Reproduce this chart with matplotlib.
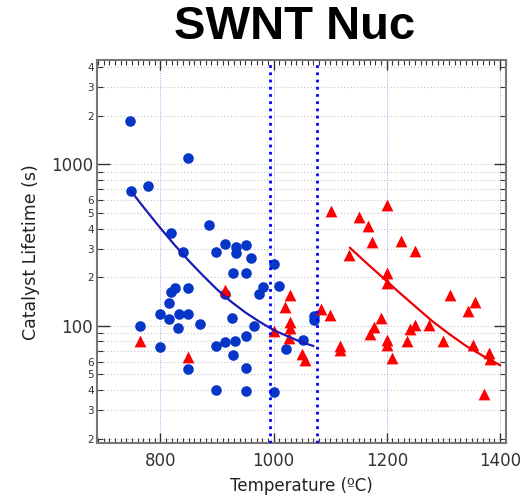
import numpy as np
import matplotlib.pyplot as plt
from matplotlib.ticker import LogLocator, FuncFormatter, MultipleLocator

# SWNT nucleation: catalyst lifetime vs growth temperature
blue_T = [747, 849, 779, 748, 885, 818, 840, 898, 825, 818, 849, 815, 799, 815,
          833, 849, 870, 831, 764, 799, 849, 898, 898, 914, 934, 951, 933, 960,
          1000, 928, 951, 1009, 981, 975, 914, 926, 966, 1071, 1071, 1052, 1022,
          914, 931, 951, 928, 951, 951, 1000]
blue_life = [1860, 1090, 736, 683, 421, 377, 287, 285, 171, 163, 171, 139, 118, 110,
             119, 118, 102, 97, 100, 74, 54, 75, 40, 319, 309, 315, 281, 262,
             241, 211, 211, 177, 174, 157, 157, 111, 99, 115, 108, 82, 72,
             79, 80, 86, 66, 55, 39.5, 39]

red_T = [764, 849, 914, 1000, 1029, 1020, 1029, 1029, 1028, 1050, 1055, 1083, 1100,
         1117, 1117, 1101, 1150, 1167, 1174, 1134, 1201, 1225, 1250, 1201, 1201,
         1171, 1178, 1190, 1201, 1201, 1210, 1235, 1241, 1250, 1275, 1300, 1312,
         1344, 1356, 1352, 1380, 1382, 1371]
red_life = [81, 64, 166, 93, 154, 131, 106, 97, 84, 67, 61, 127, 117,
            75, 71, 516, 469, 415, 331, 274, 560, 336, 290, 213, 183,
            89, 98, 112, 82, 76, 63, 80, 95, 101, 101, 81, 154,
            124, 140, 76, 68, 62, 37.6]

blue_fit_T = [748, 775, 800, 825, 850, 875, 900, 925, 950, 975, 1000, 1025, 1050, 1070]
blue_fit_life = [683, 517, 403, 317, 253, 205, 168, 141, 121, 106, 94, 86, 79, 75]
red_fit_T = [1135, 1160, 1190, 1220, 1250, 1280, 1310, 1340, 1370, 1400]
red_fit_life = [304, 252, 203, 163, 132, 107, 89, 75, 65, 57]

window_T = [993, 1077]
x_grid = [800, 1000, 1200, 1400]

fig = plt.figure(figsize=(5.2, 5.0), dpi=100)
ax = fig.add_axes([0.1865, 0.1134, 0.786, 0.7666])

ax.set_yscale("log")
ax.set_xlim(688, 1410)
ax.set_ylim(18.7, 4430)

# grid
for v in x_grid:
    ax.axvline(v, color="#9fa4ff", lw=0.7, ls=(0, (1, 1.5)), zorder=0)
yg = [m * 10 ** e for e in (1, 2, 3) for m in range(1, 10)]
for v in yg:
    ax.axhline(v, color="#c4c4c4", lw=0.8, ls=(0, (1, 2)), zorder=0)

ax.scatter(blue_T, blue_life, s=58, marker="o", color="#0536c8", linewidths=0, zorder=2)
ax.scatter(red_T, red_life, s=72, marker="^", color="#ff0000", linewidths=0, zorder=3)

ax.plot(blue_fit_T, blue_fit_life, color="#1a1ab8", lw=1.6, zorder=4)
ax.plot(red_fit_T, red_fit_life, color="#ee0000", lw=1.6, zorder=4)

for v in window_T:
    ax.axvline(v, color="#0000ff", lw=2.0, ls=(0, (1, 1.6)), zorder=5)

# ticks
ax.xaxis.set_major_locator(MultipleLocator(200))
ax.xaxis.set_minor_locator(MultipleLocator(10))
ax.yaxis.set_major_locator(LogLocator(base=10))
ax.yaxis.set_minor_locator(LogLocator(base=10, subs=range(2, 10)))


def minor_fmt(v, pos):
    lead = int(round(v / 10 ** np.floor(np.log10(v) + 1e-9)))
    return str(lead) if lead in (2, 3, 4, 5, 6) else ""


ax.yaxis.set_major_formatter(FuncFormatter(lambda v, p: "%d" % round(v)))
ax.yaxis.set_minor_formatter(FuncFormatter(minor_fmt))

ax.tick_params(which="both", direction="in", top=True, right=True, colors="#333333")
ax.tick_params(axis="x", which="major", length=7, width=1, labelsize=12, pad=6)
ax.tick_params(axis="x", which="minor", length=3.5, width=0.8)
ax.tick_params(axis="y", which="major", length=9, width=1, labelsize=12, pad=3)
ax.tick_params(axis="y", which="minor", length=4.5, width=0.8, labelsize=7.5, pad=2)

for sp in ax.spines.values():
    sp.set_color("#777777")
    sp.set_linewidth(1.5)

ax.set_xlabel("Temperature (ºC)", fontsize=12, color="#222222", labelpad=5)
ax.set_ylabel("Catalyst Lifetime (s)", fontsize=12.5, color="#222222", labelpad=8)

fig.text(0.566, 0.946, "SWNT Nuc", ha="center", va="center", fontsize=34,
         fontweight="bold", family="Liberation Sans")

fig.savefig("out.png", dpi=100)
